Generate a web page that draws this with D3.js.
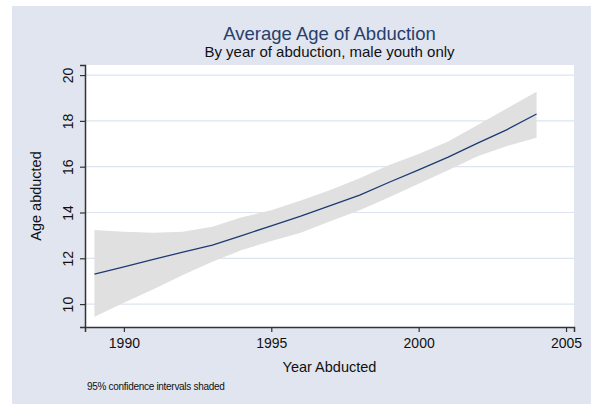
<!DOCTYPE html>
<html>
<head>
<meta charset="utf-8">
<script src="https://cdn.jsdelivr.net/npm/d3@7"></script>
<style>
  body { margin: 0; background: #fff; }
  svg { display: block; font-family: "Liberation Sans", Arial, sans-serif; }
</style>
</head>
<body>
<svg width="595" height="404"></svg>
<script>
// values
const years = [1989, 1990, 1991, 1992, 1993, 1994, 1995, 1996, 1997, 1998, 1999, 2000, 2001, 2002, 2003, 2004];
const fitted = [11.31, 11.63, 11.95, 12.27, 12.58, 12.99, 13.42, 13.84, 14.30, 14.76, 15.32, 15.86, 16.42, 17.03, 17.62, 18.30];
const upper = [13.23, 13.16, 13.12, 13.16, 13.38, 13.79, 14.10, 14.52, 14.98, 15.49, 16.07, 16.55, 17.10, 17.82, 18.55, 19.27];
const lower = [9.45, 10.06, 10.65, 11.27, 11.85, 12.36, 12.76, 13.11, 13.62, 14.10, 14.66, 15.25, 15.84, 16.46, 16.90, 17.26];
const xTicks = [1990, 1995, 2000, 2005];
const yTicks = [10, 12, 14, 16, 18, 20];

const rows = years.map((yr, i) => ({ yr, fit: fitted[i], hi: upper[i], lo: lower[i] }));

const plot = { left: 85, right: 574, top: 65, bottom: 327 };

const x = d3.scaleLinear()
            .domain([1988.68, 2005.27])
            .range([plot.left, plot.right]);

const y = d3.scaleLinear()
            .domain([9.0, 20.44])
            // svg y grows downward
            .range([plot.bottom, plot.top]);

const svg = d3.select('svg');

// graph region
svg.append('rect')
   .attr('x', 12).attr('y', 6)
   .attr('width', 579).attr('height', 398)
   .attr('fill', '#e1e5ef');

// plot region
svg.append('rect')
   .attr('x', plot.left).attr('y', plot.top)
   .attr('width', plot.right - plot.left).attr('height', plot.bottom - plot.top)
   .attr('fill', '#ffffff');

// grid
svg.append('g')
   .selectAll('line')
   .data(yTicks)
   .enter()
   .append('line')
   .attr('x1', plot.left).attr('x2', plot.right)
   .attr('y1', d => y(d)).attr('y2', d => y(d))
   .attr('stroke', '#dde4f0')
   .attr('stroke-width', 1.2);

// confidence band
const band = d3.area()
               .x(d => x(d.yr))
               .y0(d => y(d.lo))
               .y1(d => y(d.hi));

svg.append('path')
   .datum(rows)
   .attr('d', band)
   .attr('fill', '#e0e0e0');

// fitted line
const line = d3.line()
               .x(d => x(d.yr))
               .y(d => y(d.fit));

svg.append('path')
   .datum(rows)
   .attr('d', line)
   .attr('fill', 'none')
   .attr('stroke', '#1c3b72')
   .attr('stroke-width', 1.3);

// axes
const xAxis = svg.append('g')
   .attr('transform', `translate(0,${plot.bottom})`)
   .call(d3.axisBottom(x).tickValues(xTicks).tickFormat(d3.format('d')).tickSizeOuter(0).tickSize(5).tickPadding(6));

const yAxis = svg.append('g')
   .attr('transform', `translate(${plot.left},0)`)
   .call(d3.axisLeft(y).tickValues(yTicks).tickSizeOuter(0).tickSize(5).tickPadding(5));

[xAxis, yAxis].forEach(g => {
  g.select('.domain').attr('stroke', '#333').attr('stroke-width', 1.5);
  g.selectAll('.tick line').attr('stroke', '#333').attr('stroke-width', 1.2);
  g.selectAll('.tick text')
   .attr('fill', '#111')
   .style('font-size', '14px')
   .style('font-family', '"Liberation Sans", Arial, sans-serif');
});

// y tick labels stand on end
yAxis.selectAll('.tick text')
     .attr('transform', 'rotate(-90)')
     .attr('x', 0)
     .attr('y', -12)
     .attr('dy', 0)
     .attr('text-anchor', 'middle');

const midX = (plot.left + plot.right) / 2;

svg.append('text')
   .attr('x', midX).attr('y', 40)
   .attr('text-anchor', 'middle')
   .attr('fill', '#263f6c')
   .style('font-size', '18.5px')
   .text('Average Age of Abduction');

svg.append('text')
   .attr('x', midX).attr('y', 57)
   .attr('text-anchor', 'middle')
   .attr('fill', '#111')
   .style('font-size', '15px')
   .text('By year of abduction, male youth only');

svg.append('text')
   .attr('x', midX).attr('y', 372)
   .attr('text-anchor', 'middle')
   .attr('fill', '#111')
   .style('font-size', '14.5px')
   .text('Year Abducted');

svg.append('text')
   .attr('transform', `translate(41,${(plot.top + plot.bottom) / 2}) rotate(-90)`)
   .attr('text-anchor', 'middle')
   .attr('fill', '#111')
   .style('font-size', '14.5px')
   .text('Age abducted');

svg.append('text')
   .attr('x', 87).attr('y', 390)
   .attr('fill', '#111')
   .style('font-size', '10px')
   .style('letter-spacing', '-0.3px')
   .text('95% confidence intervals shaded');
</script>
</body>
</html>
